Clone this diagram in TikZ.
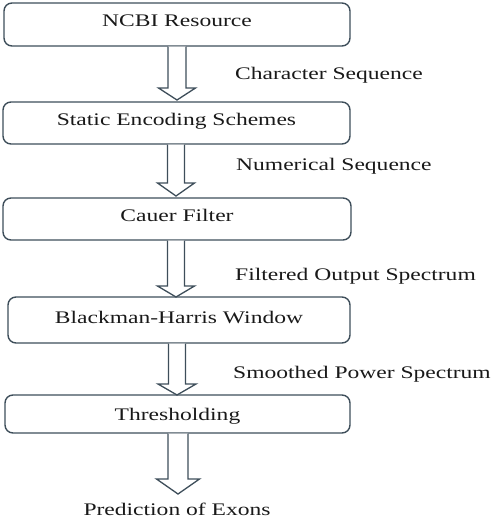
\documentclass[tikz,border=0pt]{standalone}
\usepackage{fontspec}
\setmainfont[FakeStretch=1.33]{Liberation Serif}
\usetikzlibrary{calc}
\definecolor{edge}{RGB}{62,78,90}
\newcommand{\blockarr}[5]{%
  \draw[arr] ($(#2 |- #1.south)+(-#3,0)$) -- ($(#2)+(-#3,-#5)$) -- ($(#2)+(-#4,-#5)$) -- (#2)
    -- ($(#2)+(#4,-#5)$) -- ($(#2)+(#3,-#5)$) -- ($(#2 |- #1.south)+(#3,0)$);}
\begin{document}
\begin{tikzpicture}[x=1pt,y=-1pt,
  txt/.style={font=\fontsize{17.7}{20}\selectfont, text=black!90, inner sep=0pt},
  box/.style={txt, draw=edge, line width=1.4pt, rounded corners=8pt, text height=12pt},
  lbl/.style={txt, anchor=base west},
  arr/.style={draw=edge, line width=1.3pt, fill=white, line join=miter}]
\useasboundingbox (0,0) rectangle (498,522);
\node[box, minimum width=346pt, minimum height=43pt, text depth=9pt] (b1) at (177,24.5) {NCBI Resource};
\node[box, minimum width=347pt, minimum height=42pt, text depth=8pt] (b2) at (176.5,123) {Static Encoding Schemes};
\node[box, minimum width=348pt, minimum height=42pt, text depth=6.6pt] (b3) at (177,219) {Cauer Filter};
\node[box, minimum width=342pt, minimum height=46pt, text depth=5.4pt] (b4) at (179,320) {Blackman-Harris Window};
\node[box, minimum width=345pt, minimum height=38pt, text depth=0pt] (b5) at (177.5,414) {Thresholding};
\node[txt, anchor=base] (p) at (177,515.5) {Prediction of Exons};
\coordinate (t1) at (177,100);
\coordinate (t2) at (176,196);
\coordinate (t3) at (176,297);
\coordinate (t4) at (177,395);
\coordinate (t5) at (178,494);
\blockarr{b1}{t1}{9}{18.5}{12}
\blockarr{b2}{t2}{8.5}{18.5}{13}
\blockarr{b3}{t3}{8.5}{18.5}{11}
\blockarr{b4}{t4}{8.5}{19}{11}
\blockarr{b5}{t5}{10}{21.5}{15}
\node[lbl] (l1) at (235,79) {Character Sequence};
\node[lbl] (l2) at (236,170.7) {Numerical Sequence};
\node[lbl] (l3) at (235,280) {Filtered Output Spectrum};
\node[lbl] (l4) at (233,378.7) {Smoothed Power Spectrum};
\end{tikzpicture}
\end{document}
